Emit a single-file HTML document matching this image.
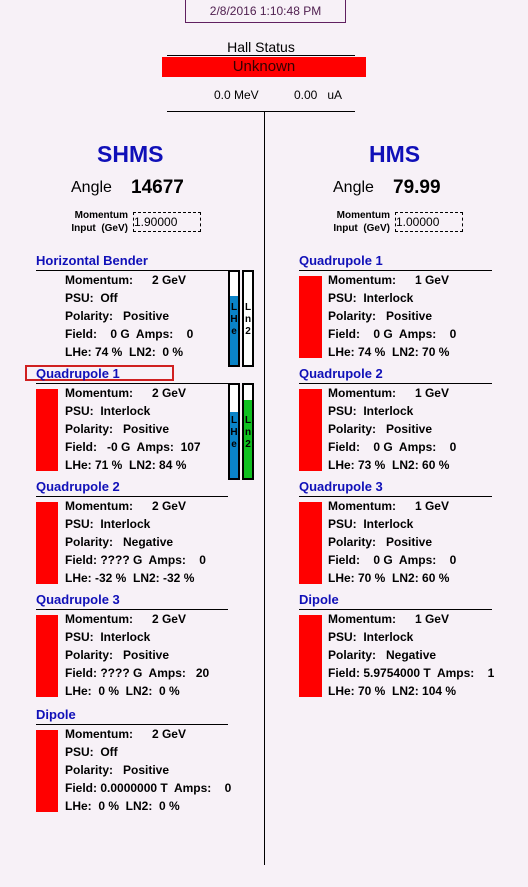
<!DOCTYPE html>
<html><head><meta charset="utf-8">
<style>
html,body{margin:0;padding:0}
body{width:528px;height:887px;background:#f7f1f7;position:relative;overflow:hidden;font-family:"Liberation Sans",Arial,sans-serif;color:#000}
.a{position:absolute}
.t{font-size:13px;font-weight:bold;color:#1010b8;white-space:pre;line-height:15px}
.r{font-size:12px;font-weight:bold;white-space:pre;line-height:14px}
.hl{height:1px;background:#000}
.red{background:#f00}
</style></head><body>
<div class="a" style="left:185px;top:-1px;width:159px;height:22px;border:1px solid #602060;font-size:12px;color:#502050;text-align:center;line-height:22px">2/8/2016 1:10:48 PM</div>
<div class="a" style="left:167px;top:39px;width:188px;text-align:center;font-size:14px;line-height:16px">Hall Status</div>
<div class="a hl" style="left:167px;top:55px;width:188px"></div>
<div class="a red" style="left:162px;top:57px;width:204px;height:20px;text-align:center;font-size:15px;line-height:19px;color:#300">Unknown</div>
<div class="a" style="left:214px;top:88px;font-size:12px;white-space:pre">0.0 MeV</div>
<div class="a" style="left:294px;top:88px;font-size:12px;white-space:pre">0.00   uA</div>
<div class="a hl" style="left:167px;top:111px;width:188px"></div>
<div class="a" style="left:264px;top:111px;width:1px;height:754px;background:#000"></div>

<div class="a" style="left:97px;top:141px;font-size:23px;font-weight:bold;color:#1010b8">SHMS</div>
<div class="a" style="left:369px;top:141px;font-size:23px;font-weight:bold;color:#1010b8">HMS</div>
<div class="a" style="left:71px;top:179px;font-size:16px">Angle</div>
<div class="a" style="left:131px;top:177px;font-size:19px;font-weight:bold">14677</div>
<div class="a" style="left:333px;top:179px;font-size:16px">Angle</div>
<div class="a" style="left:393px;top:177px;font-size:19px;font-weight:bold">79.99</div>
<div class="a" style="left:60px;top:209px;font-size:10px;font-weight:bold;text-align:right;line-height:13px;width:68px">Momentum<br>Input &nbsp;(GeV)</div>
<div class="a" style="left:133px;top:212px;width:66px;height:18px;border:1px dashed #000;font-size:12px;line-height:18px">1.90000</div>
<div class="a" style="left:322px;top:209px;font-size:10px;font-weight:bold;text-align:right;line-height:13px;width:68px">Momentum<br>Input &nbsp;(GeV)</div>
<div class="a" style="left:395px;top:212px;width:66px;height:18px;border:1px dashed #000;font-size:12px;line-height:18px">1.00000</div>

<div class="a" style="left:25px;top:365px;width:149px;height:16px;border:2px solid #d02020;box-sizing:border-box"></div>

<div id="root"></div>
<script>
const names=["Horizontal Bender","Quadrupole 1","Quadrupole 2","Quadrupole 3","Dipole","Quadrupole 1","Quadrupole 2","Quadrupole 3","Dipole"];
const side=["L","L","L","L","L","R","R","R","R"];
const slot=[0,1,2,3,4,0,1,2,3];
const momentum=["2 GeV","2 GeV","2 GeV","2 GeV","2 GeV","1 GeV","1 GeV","1 GeV","1 GeV"];
const psu=["Off","Interlock","Interlock","Interlock","Off","Interlock","Interlock","Interlock","Interlock"];
const polarity=["Positive","Positive","Negative","Positive","Positive","Positive","Positive","Positive","Negative"];
const field=["Field:    0 G  Amps:    0","Field:   -0 G  Amps:  107","Field: ???? G  Amps:    0","Field: ???? G  Amps:   20","Field: 0.0000000 T  Amps:    0","Field:    0 G  Amps:    0","Field:    0 G  Amps:    0","Field:    0 G  Amps:    0","Field: 5.9754000 T  Amps:    1"];
const lhe=["74","71","-32","0","0","74","73","70","70"];
const ln2=["0","84","-32","0","0","70","60","60","104"];
const showRed=[false,true,true,true,true,true,true,true,true];
const showBars=[true,true,false,false,false,false,false,false,false];
const lineY=[270,383,496,609,724];
const root=document.getElementById('root');
function mk(cls,style,txt){const d=document.createElement('div');d.className='a '+cls;d.style.cssText=style;if(txt!=null)d.textContent=txt;root.appendChild(d);return d;}
for(let i=0;i<names.length;i++){
  const x=side[i]==='L'?36:299, tx=x+29, t=lineY[slot[i]];
  const key='magnet-'+side[i].toLowerCase()+'-'+i;
  let e=mk('t',`left:${x}px;top:${t-17}px`,names[i]);
  
  
  e=mk('hl',`left:${x}px;top:${t}px;width:${side[i]==='L'?192:193}px`);
  
  
  if(showRed[i]){e=mk('red',`left:${x}px;top:${t+6}px;width:${side[i]==='L'?22:23}px;height:82px`);
    
    }
  const rows=["Momentum:","PSU:  "+psu[i],"Polarity:   "+polarity[i],field[i],"LHe: "+(lhe[i].length<2?" ":"")+lhe[i]+" %  LN2: "+(ln2[i].length<2?" ":"")+ln2[i]+" %"];
  rows.forEach((r,k)=>{e=mk('r',`left:${tx}px;top:${t+3+k*18}px`,r);
    
    });
  e=mk('r',`left:${tx}px;top:${t+3}px;width:121px;text-align:right`,momentum[i]);
  
  
  if(showBars[i]){
    const levels=[[+lhe[i],'#0a84c8','LHe',228],[+ln2[i],'#10c020','Ln2',242]];
    levels.forEach(([v,c,lab,bx])=>{
      const H=93;
      const b=mk('',`left:${bx}px;top:${t}px;width:8px;height:${H}px;border:2px solid #000;background:#fff;overflow:hidden`);
      
      
      const f=document.createElement('div');
      f.style.cssText=`position:absolute;left:0;bottom:0;width:8px;height:${Math.max(0,Math.min(100,v))/100*H}px;background:${c}`;
      
      
      b.appendChild(f);
      const l=document.createElement('div');
      l.style.cssText='position:absolute;left:0;top:30px;width:8px;text-align:center;font-size:10px;font-weight:bold;line-height:12px';
      l.innerHTML=lab.split('').join('<br>');
      
      
      b.appendChild(l);
    });
  }
}
</script>
</body></html>
